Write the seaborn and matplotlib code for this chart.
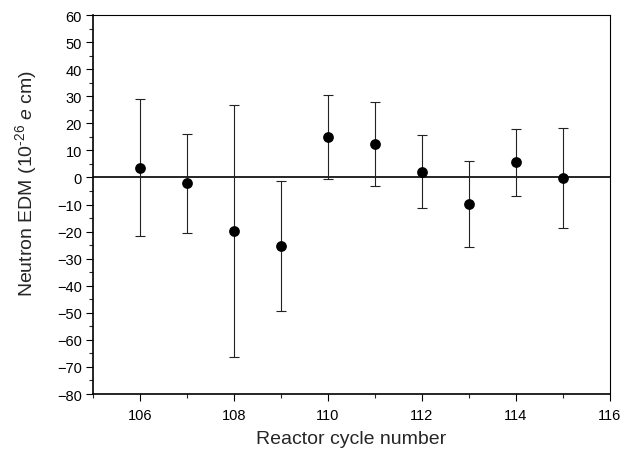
import numpy as np
import pandas as pd
import matplotlib
matplotlib.use("Agg")
import matplotlib.pyplot as plt
import seaborn as sns

# values
cycles = [106, 107, 108, 109, 110, 111, 112, 113, 114, 115]
edm = [3.6, -2.2, -19.8, -25.3, 14.8, 12.3, 2.1, -9.8, 5.6, -0.3]
edm_err = [25.2, 18.3, 46.5, 24.0, 15.5, 15.6, 13.5, 15.8, 12.3, 18.4]

df = pd.DataFrame({"cycle": cycles, "edm": edm, "err": edm_err})

sns.set_theme(style="ticks")
plt.rcParams["font.family"] = ["Liberation Sans", "DejaVu Sans"]
plt.rcParams["mathtext.fontset"] = "custom"
plt.rcParams["mathtext.rm"] = "Liberation Sans"
plt.rcParams["mathtext.it"] = "Liberation Sans:italic"

fig = plt.figure(figsize=(6.31, 4.52), dpi=100)
ax = fig.add_axes([0.1474, 0.1261, 0.8193, 0.8385])

ax.axhline(0, color="black", lw=1.2, zorder=1)
ax.errorbar(df["cycle"], df["edm"], yerr=df["err"], fmt="none",
            ecolor="#222222", elinewidth=0.8, capsize=3.6, capthick=0.8, zorder=2)
sns.scatterplot(data=df, x="cycle", y="edm", ax=ax, color="black",
                s=60, edgecolor="black", linewidth=0, zorder=3)

ax.set_xlim(105, 116)
ax.set_ylim(-80, 60)
ax.set_xticks(np.arange(106, 117, 2))
ax.set_xticks(np.arange(105, 117, 1), minor=True)
ax.set_yticks(np.arange(-80, 61, 10))
ax.set_yticks(np.arange(-75, 60, 10), minor=True)

ax.tick_params(which="major", direction="out", length=5, width=0.8,
               labelsize=10.5, colors="black", pad=3)
ax.tick_params(which="minor", direction="out", length=2.8, width=0.8)
ax.tick_params(axis="x", pad=5)

for side in ["top", "right", "left", "bottom"]:
    ax.spines[side].set_visible(True)
    ax.spines[side].set_linewidth(0.8)
    ax.spines[side].set_color("black")
ax.spines["left"].set_linewidth(1.2)
ax.spines["bottom"].set_linewidth(1.2)

ax.set_xlabel("Reactor cycle number", fontsize=14, labelpad=6)
ax.set_ylabel(r"Neutron EDM (10$^{\text{-26}}$ $e$ cm)", fontsize=14)
ax.yaxis.set_label_coords(-0.104, 0.557)

fig.savefig("out.png", dpi=100)
